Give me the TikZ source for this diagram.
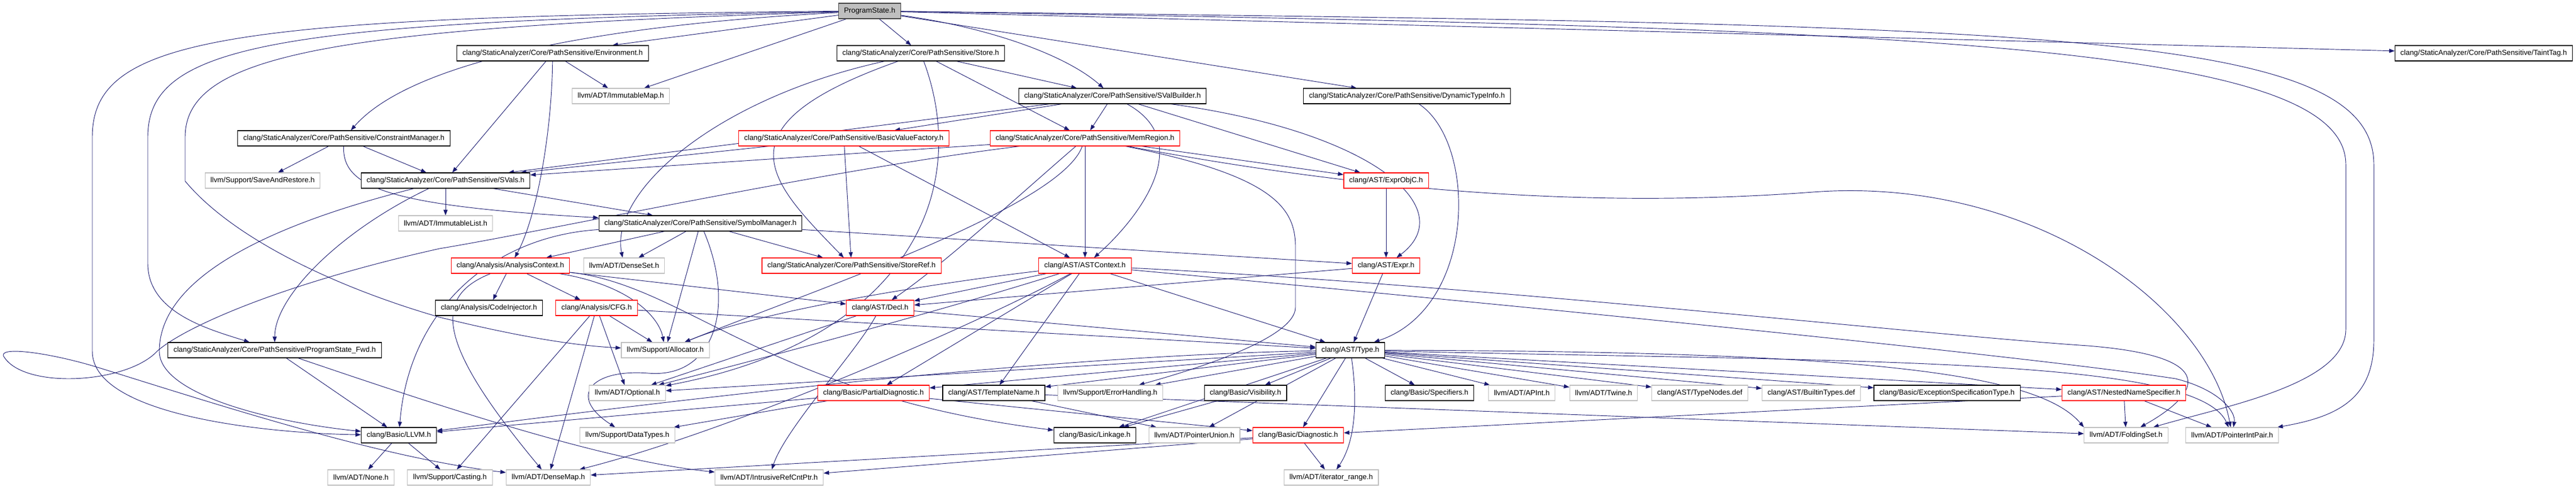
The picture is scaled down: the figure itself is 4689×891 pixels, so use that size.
\documentclass[tikz,border=0pt]{standalone}
\usepackage{fontspec}
\setmainfont{Liberation Sans}
\usetikzlibrary{arrows.meta}
\definecolor{edgeblue}{HTML}{191970}
\definecolor{boxgray}{HTML}{BFBFBF}
\definecolor{boxred}{HTML}{FF0000}
\definecolor{rootline}{HTML}{404040}
\pgfdeclarelayer{bg}
\pgfsetlayers{bg,main}
\newcommand{\pathsens}{clang/StaticAnalyzer/Core/PathSensitive/}

\begin{document}
\begin{tikzpicture}[x=0.75pt,y=-0.75pt]
		\tikzset{> = {Triangle[length=7.5pt,width=5.5pt]},
			hdr/.style = {draw = black, line width = 0.8pt, fill = white, inner xsep = 7.5pt, inner ysep = 0pt, minimum height = 21pt, font = \fontsize{10}{12}\selectfont},
			sys/.style = {hdr, draw = boxgray},
			part/.style = {hdr, draw = boxred},
			root/.style = {hdr, draw = rootline, fill = boxgray},
			dep/.style = {->, draw = edgeblue, line width = 0.7pt}}
		\useasboundingbox (0,0) rectangle (4689,891);
		\node[root] (ps) at (1583,20) {ProgramState.h};
		\node[hdr] (env) at (1006,97) {\pathsens Environment.h};
		\node[hdr] (store) at (1676,97) {\pathsens Store.h};
		\node[hdr] (taint) at (4521,97) {\pathsens TaintTag.h};
		\node[sys] (imap) at (1130,175) {llvm/ADT/ImmutableMap.h};
		\node[hdr] (svb) at (2025,175) {\pathsens SValBuilder.h};
		\node[hdr] (dti) at (2561,175) {\pathsens DynamicTypeInfo.h};
		\node[hdr] (cm) at (626,252) {\pathsens ConstraintManager.h};
		\node[part] (bvf) at (1536,252) {\pathsens BasicValueFactory.h};
		\node[part] (mem) at (1975,252) {\pathsens MemRegion.h};
		\node[sys] (sar) at (478,329) {llvm/Support/SaveAndRestore.h};
		\node[hdr] (svals) at (811,329) {\pathsens SVals.h};
		\node[part] (objc) at (2523,329) {clang/AST/ExprObjC.h};
		\node[sys] (ilist) at (811,407) {llvm/ADT/ImmutableList.h};
		\node[hdr] (sym) at (1275,407) {\pathsens SymbolManager.h};
		\node[part] (actx) at (929,484) {clang/Analysis/AnalysisContext.h};
		\node[sys] (dset) at (1136,484) {llvm/ADT/DenseSet.h};
		\node[part] (sref) at (1550,484) {\pathsens StoreRef.h};
		\node[part] (astctx) at (1975,484) {clang/AST/ASTContext.h};
		\node[part] (expr) at (2523,484) {clang/AST/Expr.h};
		\node[hdr] (cinj) at (890,561) {clang/Analysis/CodeInjector.h};
		\node[part] (cfg) at (1086,561) {clang/Analysis/CFG.h};
		\node[part] (decl) at (1602,561) {clang/AST/Decl.h};
		\node[hdr] (fwd) at (500,638) {\pathsens ProgramState\_Fwd.h};
		\node[sys] (alloc) at (1211,638) {llvm/Support/Allocator.h};
		\node[hdr] (type) at (2458,638) {clang/AST/Type.h};
		\node[sys] (opt) at (1142,716) {llvm/ADT/Optional.h};
		\node[part] (pdiag) at (1590,716) {clang/Basic/PartialDiagnostic.h};
		\node[hdr] (tname) at (1809,716) {clang/AST/TemplateName.h};
		\node[sys] (err) at (2021,716) {llvm/Support/ErrorHandling.h};
		\node[hdr] (vis) at (2267,716) {clang/Basic/Visibility.h};
		\node[hdr] (spec) at (2602,716) {clang/Basic/Specifiers.h};
		\node[sys] (apint) at (2770,716) {llvm/ADT/APInt.h};
		\node[sys] (twine) at (2919,716) {llvm/ADT/Twine.h};
		\node[sys] (tnodes) at (3094,716) {clang/AST/TypeNodes.def};
		\node[sys] (btypes) at (3297,716) {clang/AST/BuiltinTypes.def};
		\node[hdr] (exspec) at (3544,716) {clang/Basic/ExceptionSpecificationType.h};
		\node[part] (nns) at (3866,716) {clang/AST/NestedNameSpecifier.h};
		\node[hdr] (llvm) at (726,793) {clang/Basic/LLVM.h};
		\node[sys] (dtypes) at (1142,793) {llvm/Support/DataTypes.h};
		\node[hdr] (link) at (1993,793) {clang/Basic/Linkage.h};
		\node[sys] (punion) at (2174,793) {llvm/ADT/PointerUnion.h};
		\node[part] (diag) at (2363,793) {clang/Basic/Diagnostic.h};
		\node[sys] (fset) at (3870,793) {llvm/ADT/FoldingSet.h};
		\node[sys] (pip) at (4063,793) {llvm/ADT/PointerIntPair.h};
		\node[sys] (none) at (657,870) {llvm/ADT/None.h};
		\node[sys] (cast) at (819,870) {llvm/Support/Casting.h};
		\node[sys] (dmap) at (998,870) {llvm/ADT/DenseMap.h};
		\node[sys] (irc) at (1400,870) {llvm/ADT/IntrusiveRefCntPtr.h};
		\node[sys] (irange) at (2423,870) {llvm/ADT/iterator\_range.h};
		\begin{pgfonlayer}{bg}
		\draw[dep] (ps) .. controls (1100,45) and (750,110) .. (cm);
		\draw[dep] (ps) -- (env);
		\draw[dep] (ps) -- (imap);
		\draw[dep] (ps) -- (store);
		\draw[dep] (ps) .. controls (1800,50) and (1940,100) .. (svb);
		\draw[dep] (ps) -- (dti);
		\draw[dep] (ps) -- (taint);
		\draw[dep] (ps) .. controls (400,30) and (168,70) .. (168,250) -- (168,640) .. controls (168,760) and (500,790) .. (llvm);
		\draw[dep] (ps) .. controls (500,40) and (269,80) .. (269,250) -- (269,480) .. controls (269,570) and (380,600) .. (fwd);
		\draw[dep] (ps) .. controls (600,50) and (337,100) .. (337,250) -- (337,330) .. controls (420,430) and (600,520) .. (800,578) .. controls (950,615) and (1050,630) .. (alloc);
		\draw[dep] (ps) .. controls (3500,50) and (4270,80) .. (4270,300) -- (4270,600) .. controls (4270,700) and (4050,740) .. (fset);
		\draw[dep] (ps) .. controls (3700,45) and (4321,50) .. (4321,300) -- (4321,620) .. controls (4321,730) and (4250,760) .. (pip);
		\draw[dep] (env) -- (svals);
		\draw[dep] (env) -- (imap);
		\draw[dep] (env) .. controls (1004,250) and (975,400) .. (actx);
		\draw[dep] (store) -- (svb);
		\draw[dep] (store) -- (mem);
		\draw[dep] (store) .. controls (1300,180) and (1110,350) .. (dset);
		\draw[dep] (store) .. controls (1300,230) and (1400,330) .. (sref);
		\draw[dep] (store) .. controls (1770,350) and (1650,620) .. (opt);
		\draw[dep] (svb) -- (svals);
		\draw[dep] (svb) -- (bvf);
		\draw[dep] (svb) -- (mem);
		\draw[dep] (svb) -- (objc);
		\draw[dep] (svb) .. controls (2500,240) and (2660,380) .. (expr);
		\draw[dep] (svb) .. controls (2180,260) and (2070,400) .. (astctx);
		\draw[dep] (dti) .. controls (2689,260) and (2689,560) .. (type);
		\draw[dep] (bvf) -- (svals);
		\draw[dep] (bvf) -- (sref);
		\draw[dep] (bvf) -- (astctx);
		\draw[dep] (mem) -- (svals);
		\draw[dep] (mem) .. controls (1850,360) and (1720,480) .. (decl);
		\draw[dep] (mem) -- (astctx);
		\draw[dep] (mem) -- (objc);
		\draw[dep] (mem) .. controls (1930,380) and (1450,540) .. (alloc);
		\draw[dep] (mem) .. controls (2320,320) and (2358,380) .. (2358,450) -- (2358,560) .. controls (2358,620) and (2150,680) .. (err);
		\draw[dep] (mem) .. controls (2500,350) and (2900,380) .. (3300,350) .. controls (3700,320) and (4020,560) .. (pip);
		\draw[dep] (mem) .. controls (1500,310) and (1000,420) .. (800,453) .. controls (500,520) and (330,600) .. (286,640) .. controls (230,700) and (40,710) .. (6,648) .. controls (2,630) and (100,645) .. (180,670) .. controls (420,745) and (700,835) .. (dmap);
		\draw[dep] (cm) -- (sar);
		\draw[dep] (cm) -- (svals);
		\draw[dep] (cm) .. controls (623,340) and (700,375) .. (sym);
		\draw[dep] (svals) -- (ilist);
		\draw[dep] (svals) -- (sym);
		\draw[dep] (svals) .. controls (620,420) and (500,540) .. (fwd);
		\draw[dep] (svals) .. controls (450,420) and (290,520) .. (290,640) .. controls (290,720) and (500,770) .. (llvm);
		\draw[dep] (sym) -- (actx);
		\draw[dep] (sym) -- (dset);
		\draw[dep] (sym) -- (alloc);
		\draw[dep] (sym) -- (sref);
		\draw[dep] (sym) -- (expr);
		\draw[dep] (sym) .. controls (900,430) and (745,560) .. (llvm);
		\draw[dep] (sym) .. controls (1340,560) and (1300,690) .. (1180,680) .. controls (1080,672) and (1030,720) .. (dtypes);
		\draw[dep] (actx) -- (cinj);
		\draw[dep] (actx) -- (cfg);
		\draw[dep] (actx) .. controls (1150,520) and (1200,580) .. (alloc);
		\draw[dep] (actx) -- (decl);
		\draw[dep] (actx) .. controls (790,540) and (790,620) .. (dmap);
		\draw[dep] (actx) .. controls (1250,520) and (1400,720) .. (link);
		\draw[dep] (cfg) -- (alloc);
		\draw[dep] (cfg) -- (opt);
		\draw[dep] (cfg) -- (dmap);
		\draw[dep] (cfg) -- (cast);
		\draw[dep] (cfg) -- (type);
		\draw[dep] (decl) -- (type);
		\draw[dep] (decl) .. controls (1560,640) and (1430,780) .. (irc);
		\draw[dep] (decl) -- (opt);
		\draw[dep] (astctx) -- (decl);
		\draw[dep] (astctx) -- (pdiag);
		\draw[dep] (astctx) -- (tname);
		\draw[dep] (astctx) -- (type);
		\draw[dep] (astctx) .. controls (1750,510) and (1400,560) .. (alloc);
		\draw[dep] (astctx) .. controls (1700,570) and (1400,650) .. (opt);
		\draw[dep] (astctx) .. controls (1800,580) and (1350,780) .. (dmap);
		\draw[dep] (astctx) .. controls (2700,520) and (3500,610) .. (3800,630) .. controls (4050,650) and (4000,720) .. (fset);
		\draw[dep] (astctx) .. controls (2800,560) and (3700,650) .. (3960,690) .. controls (4040,710) and (4070,750) .. (pip);
		\draw[dep] (expr) -- (decl);
		\draw[dep] (expr) -- (type);
		\draw[dep] (objc) -- (expr);
		\draw[dep] (type) -- (pdiag);
		\draw[dep] (type) -- (tname);
		\draw[dep] (type) -- (err);
		\draw[dep] (type) -- (vis);
		\draw[dep] (type) -- (link);
		\draw[dep] (type) -- (punion);
		\draw[dep] (type) -- (diag);
		\draw[dep] (type) .. controls (2470,720) and (2470,800) .. (irange);
		\draw[dep] (type) -- (spec);
		\draw[dep] (type) -- (apint);
		\draw[dep] (type) -- (twine);
		\draw[dep] (type) -- (tnodes);
		\draw[dep] (type) -- (btypes);
		\draw[dep] (type) -- (exspec);
		\draw[dep] (type) -- (nns);
		\draw[dep] (type) .. controls (3400,640) and (3710,680) .. (fset.north west);
		\draw[dep] (type) .. controls (3400,660) and (4000,650) .. (pip);
		\draw[dep] (type) .. controls (1800,650) and (1000,760) .. (llvm);
		\draw[dep] (type) -- (opt);
		\draw[dep] (nns) -- (fset);
		\draw[dep] (nns) -- (pip);
		\draw[dep] (nns) -- (diag);
		\draw[dep] (diag) -- (irange);
		\draw[dep] (diag) -- (irc);
		\draw[dep] (diag) -- (dmap);
		\draw[dep] (pdiag) -- (dtypes);
		\draw[dep] (pdiag) -- (diag);
		\draw[dep] (pdiag) -- (llvm);
		\draw[dep] (tname) -- (punion);
		\draw[dep] (tname) -- (fset);
		\draw[dep] (vis) -- (link);
		\draw[dep] (llvm) -- (none);
		\draw[dep] (llvm) -- (cast);
		\draw[dep] (fwd) -- (llvm);
		\draw[dep] (fwd) .. controls (800,740) and (1100,840) .. (irc);
		\end{pgfonlayer}
	\end{tikzpicture}
\end{document}
